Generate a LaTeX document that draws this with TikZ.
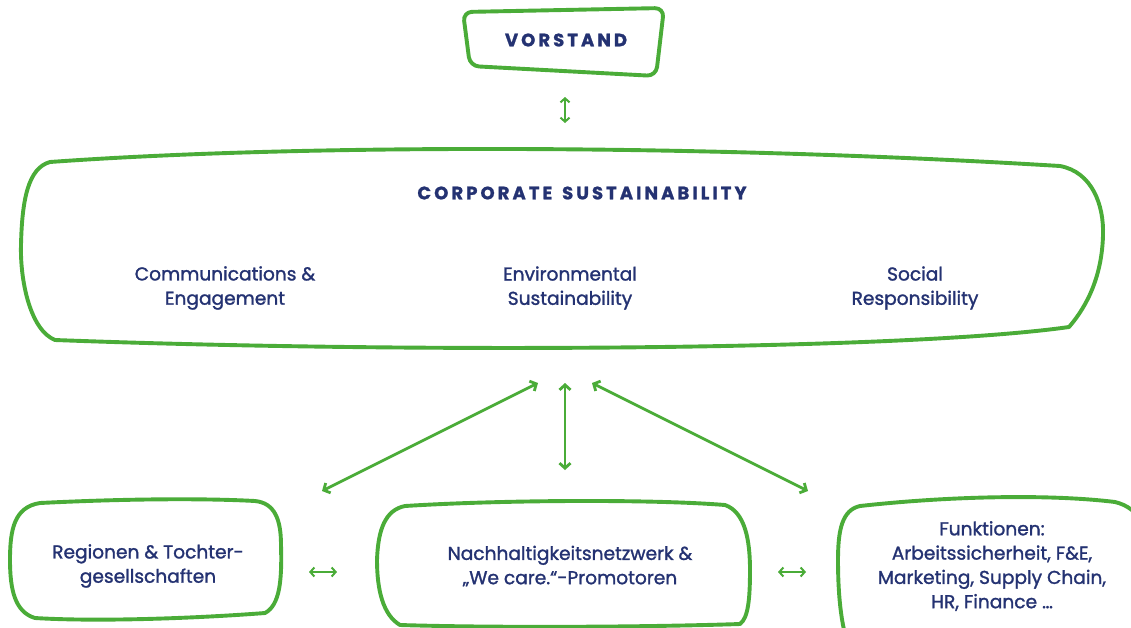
\documentclass[tikz,border=0pt]{standalone}
\usepackage{fontspec}
\setmainfont{Poppins}
\newfontfamily\bodyfont[FakeBold=1.4]{Poppins}
\newfontfamily\headfont[LetterSpace=17, BoldFeatures={FakeBold=1.2}]{Poppins}
\usetikzlibrary{arrows.meta}
\definecolor{lgreen}{RGB}{74,172,56}
\definecolor{navy}{RGB}{36,50,114}
\begin{document}
\begin{tikzpicture}[x=1pt,y=-1pt,
  box/.style={draw=lgreen, line width=3.9pt, line join=round, line cap=round},
  conn/.style={draw=lgreen, line width=2.8pt, line cap=round,
    {Straight Barb[length=5pt,width=11pt]}-{Straight Barb[length=5pt,width=11pt]}},
  smallconn/.style={draw=lgreen, line width=2pt, line cap=round,
    {Straight Barb[length=4pt,width=9pt]}-{Straight Barb[length=4pt,width=9pt]}},
  lbl/.style={text=navy, align=center, inner sep=0pt, font=\bodyfont\fontsize{18.6}{24.3}\selectfont},
  head/.style={text=navy, inner sep=0pt, font=\headfont\bfseries\fontsize{18}{20}\selectfont}
]
\useasboundingbox (0,0) rectangle (1131,627);
\clip (0,0) rectangle (1131,627);
\fill[white] (0,0) rectangle (1131,627);

% VORSTAND box
\draw[box, rounded corners=9pt] (463,12) -- (664,8) -- (656,76) -- (470,66) -- cycle;
\node[head] (vorstand) at (566,40) {VORSTAND};

% Corporate sustainability box
\draw[box] (50,162) .. controls (300,144) and (700,144) .. (1060,166)
  .. controls (1092,172) and (1104,205) .. (1103,235)
  .. controls (1102,275) and (1088,305) .. (1069,327)
  .. controls (900,351) and (400,353) .. (55,340)
  .. controls (30,330) and (20,280) .. (21,245)
  .. controls (22,200) and (28,168) .. (50,162) -- cycle;
\node[head] (cs) at (582,193) {CORPORATE\kern3pt\ SUSTAINABILITY};
\node[lbl] (comm) at (225,288) {Communications \&\\Engagement};
\node[lbl] (env) at (570,288) {Environmental\\Sustainability};
\node[lbl] (soc) at (915,288) {Social\\Responsibility};

% Bottom boxes
\draw[box] (40,503) .. controls (120,499) and (200,498) .. (255,501)
  .. controls (275,503) and (281,520) .. (281,545)
  .. controls (282,580) and (280,605) .. (265,613)
  .. controls (200,618) and (100,622) .. (35,618)
  .. controls (15,612) and (10,590) .. (10,560)
  .. controls (10,530) and (14,507) .. (40,503) -- cycle;
\node[lbl] (reg) at (148,566) {Regionen \& Tochter-\\gesellschaften};

\draw[box] (405,506) .. controls (500,500) and (650,499) .. (725,505)
  .. controls (745,512) and (750,540) .. (750,570)
  .. controls (750,600) and (748,618) .. (740,624)
  .. controls (650,627) and (500,628) .. (400,625)
  .. controls (383,615) and (377,590) .. (377,560)
  .. controls (378,530) and (385,510) .. (405,506) -- cycle;
\node[lbl] (net) at (570,566) {Nachhaltigkeitsnetzwerk \&\\„We care.“-Promotoren};

\draw[box] (860,506) .. controls (950,496) and (1050,494) .. (1115,502)
  .. controls (1140,508) and (1150,530) .. (1150,560)
  -- (1150,650) -- (850,650)
  .. controls (842,630) and (838,600) .. (838,560)
  .. controls (838,530) and (842,510) .. (860,506) -- cycle;
\node[lbl] (fun) at (992,566) {Funktionen:\\Arbeitssicherheit, F\&E,\\Marketing, Supply Chain,\\HR, Finance \dots};

% connectors
\coordinate (v1) at (565,97);
\coordinate (v2) at (565,123);
\draw[smallconn] (v1) -- (v2);

\coordinate (c1) at (538,383);
\coordinate (c2) at (565,383);
\coordinate (c3) at (592,383);
\coordinate (b1) at (322,491);
\coordinate (b2) at (565,470);
\coordinate (b3) at (808,491);
\draw[conn] (c1) -- (b1);
\draw[conn] (c2) -- (b2);
\draw[conn] (c3) -- (b3);

\coordinate (h1) at (309,572);
\coordinate (h2) at (337,572);
\coordinate (h3) at (778,572);
\coordinate (h4) at (806,572);
\draw[smallconn] (h1) -- (h2);
\draw[smallconn] (h3) -- (h4);
\end{tikzpicture}
\end{document}
